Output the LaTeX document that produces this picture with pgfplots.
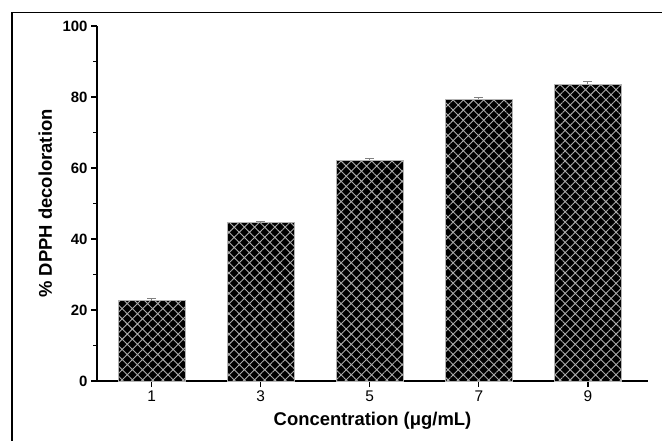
\documentclass[border=0pt]{standalone}
\usepackage{pgfplots}
\pgfplotsset{compat=1.18}
\usepackage{fontspec}
\setmainfont{Liberation Sans}
\usetikzlibrary{patterns.meta}
\begin{document}
\begin{tikzpicture}
\useasboundingbox (0,0) rectangle (662bp,-441bp);
\draw[line width=1.8bp] (12bp,-441bp) -- (12bp,-12.5bp) -- (662bp,-12.5bp);
\begin{axis}[
  at={(97bp,-381bp)}, anchor=south west,
  scale only axis, width=551bp, height=355bp,
  xmin=0, xmax=10.1, ymin=0, ymax=100,
  axis x line*=bottom, axis y line*=left,
  axis line style={line width=1.3bp},
  xtick={1,3,5,7,9}, ytick={0,20,...,100},
  minor y tick num=1,
  tick align=outside,
  major tick length=6bp, minor tick length=4bp,
  every tick/.style={black, line width=1.2bp},
  /pgf/number format/assume math mode=true,
  yticklabel style={font=\bfseries\fontsize{15}{15}\selectfont},
  xticklabel style={font=\fontsize{15.5}{15.5}\selectfont},
  xlabel={\bfseries Concentration (μg/mL)},
  ylabel={\bfseries \% DPPH decoloration},
  label style={font=\fontsize{18.5}{19}\selectfont},
  xlabel style={at={(axis description cs:0.5,-0.113)}, anchor=center},
  ylabel style={at={(axis description cs:-0.094,0.5)}, anchor=center},
  clip=false,
]
\addplot[ybar, bar width=67bp, fill=black, draw=gray!60, line width=0.8bp,
  postaction={pattern={Hatch[angle=45,distance=7.2bp,line width=0.9bp]}, pattern color=gray!65},
  error bars/.cd, y dir=plus, y explicit,
  error bar style={gray, line width=1bp},
  error mark options={rotate=90, mark size=4.5bp, gray, line width=1bp}]
  coordinates {
  (1,22.6) +- (0,0.6)
  (3,44.6) +- (0,0.4)
  (5,62.2) +- (0,0.5)
  (7,79.4) +- (0,0.5)
  (9,83.6) +- (0,0.7)
  };
\end{axis}
\end{tikzpicture}
\end{document}
